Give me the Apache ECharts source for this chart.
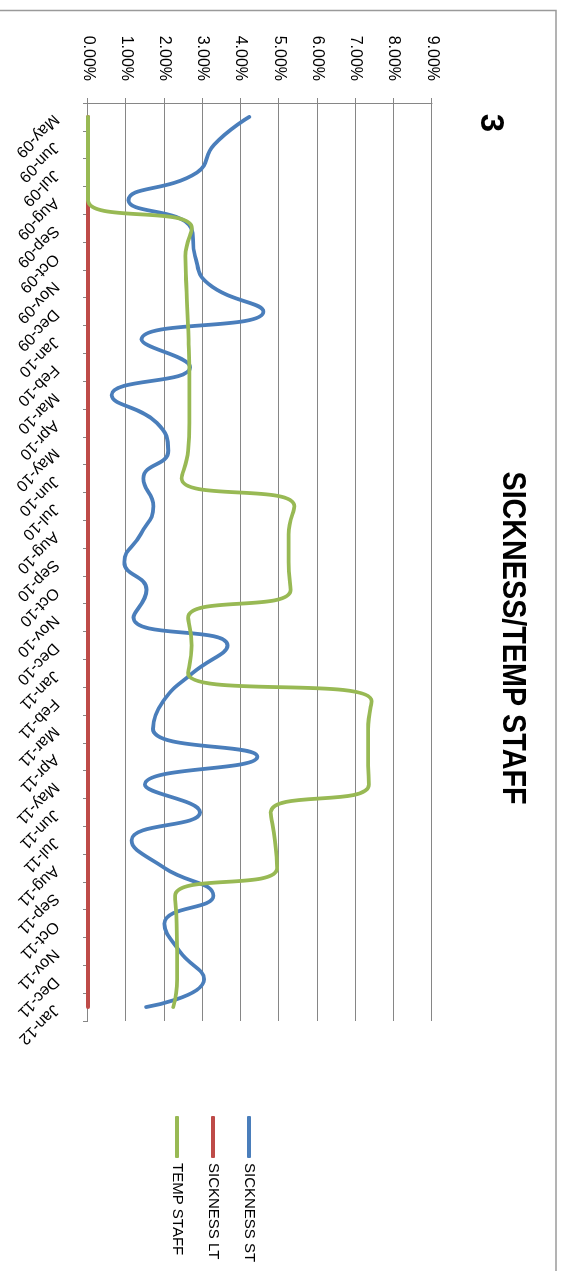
<!DOCTYPE html>
<html>
<head>
<meta charset="utf-8">
<script src="https://cdn.jsdelivr.net/npm/echarts@6/dist/echarts.min.js"></script>
<style>
  html, body { margin: 0; padding: 0; background: #fff; overflow: hidden; }
  #page { position: absolute; left: 0; top: 0; width: 563px; height: 1271px; overflow: hidden; }
  /* the chart is laid out landscape and turned a quarter turn clockwise onto the page */
  #chart { position: absolute; left: 0; top: 0; width: 1271px; height: 563px;
           transform-origin: 0 0; transform: translate(563px, 0) rotate(90deg); }
</style>
</head>
<body>
<div id="page"><div id="chart"></div></div>
<script>
// Monthly categories
const months = [
  'May-09', 'Jun-09', 'Jul-09', 'Aug-09', 'Sep-09', 'Oct-09', 'Nov-09', 'Dec-09',
  'Jan-10', 'Feb-10', 'Mar-10', 'Apr-10', 'May-10', 'Jun-10', 'Jul-10', 'Aug-10',
  'Sep-10', 'Oct-10', 'Nov-10', 'Dec-10', 'Jan-11', 'Feb-11', 'Mar-11', 'Apr-11',
  'May-11', 'Jun-11', 'Jul-11', 'Aug-11', 'Sep-11', 'Oct-11', 'Nov-11', 'Dec-11',
  'Jan-12'
];

// Percentages per month
const sicknessST = [
  4.22, 3.30, 2.85, 1.06, 2.70, 2.80, 3.15, 4.59,
  1.40, 2.67, 0.62, 1.80, 2.10, 1.45, 1.71, 1.38,
  0.95, 1.53, 1.19, 3.65, 2.73, 1.97, 1.70, 4.43,
  1.49, 2.93, 1.14, 2.00, 3.28, 2.00, 2.40, 3.04,
  1.52
];
const sicknessLT = [
  0, 0, 0, 0, 0, 0, 0, 0,
  0, 0, 0, 0, 0, 0, 0, 0,
  0, 0, 0, 0, 0, 0, 0, 0,
  0, 0, 0, 0, 0, 0, 0, 0,
  0
];
const tempStaff = [
  0, 0, 0, 0, 2.72, 2.55, 2.57, 2.60,
  2.63, 2.65, 2.65, 2.65, 2.62, 2.45, 5.40, 5.25,
  5.25, 5.30, 2.62, 2.71, 2.62, 7.42, 7.33, 7.33,
  7.35, 4.78, 4.89, 4.95, 2.28, 2.32, 2.33, 2.33,
  2.23
];

const seriesNames = ['SICKNESS ST', 'SICKNESS LT', 'TEMP STAFF'];
const seriesColors = ['#4A7EBB', '#BE4B48', '#98B954'];

const font = 'Liberation Sans, Arial, sans-serif';
const gridGray = '#868686';

function lineSeries(idx, data) {
  return {
    name: seriesNames[idx],
    type: 'line',
    data: data,
    smooth: 0.5,
    symbol: 'none',
    color: seriesColors[idx],
    lineStyle: { width: 3.8, color: seriesColors[idx], cap: 'round', join: 'round' },
    emphasis: { disabled: true },
    z: 3 + idx
  };
}

const chart = echarts.init(document.getElementById('chart'), null, { renderer: 'canvas' });
chart.setOption({
  animation: false,
  backgroundColor: '#ffffff',
  title: [
    {
      text: '3',
      left: 123, top: 56, textAlign: 'center', padding: 0,
      textStyle: { fontFamily: font, fontWeight: 'bold', fontSize: 33, color: '#000' }
    }
  ],
  graphic: [
    {
      type: 'rect', silent: true,
      shape: { x: 10.5, y: 7, width: 1400, height: 700 },
      style: { fill: 'none', stroke: '#9a9a9a', lineWidth: 1.5 }
    },
    {
      // condensed bold heading
      type: 'text', silent: true,
      x: 638, y: 51, scaleX: 0.845,
      style: {
        text: 'SICKNESS/TEMP STAFF',
        font: 'bold 34px Liberation Sans, Arial, sans-serif',
        fill: '#000', textAlign: 'center', textVerticalAlign: 'middle'
      }
    }
  ],
  legend: {
    orient: 'vertical',
    left: 1111, top: 300,
    itemWidth: 42, itemHeight: 4, itemGap: 18,
    icon: 'roundRect',
    selectedMode: false,
    textStyle: { fontFamily: font, fontSize: 15, color: '#000', lineHeight: 18 },
    data: seriesNames
  },
  grid: { left: 103, right: 250, top: 131, bottom: 88, containLabel: false },
  xAxis: {
    type: 'category',
    data: months,
    boundaryGap: true,
    axisLine: { show: true, lineStyle: { color: gridGray, width: 1 } },
    axisTick: { show: true, interval: 0, length: 5, lineStyle: { color: gridGray } },
    axisLabel: { interval: 0, rotate: -45, margin: 32, fontFamily: font, fontSize: 16, color: '#000' },
    splitLine: { show: false }
  },
  yAxis: {
    type: 'value',
    min: 0, max: 9, interval: 1,
    axisLine: { show: true, lineStyle: { color: gridGray, width: 1 } },
    axisTick: { show: true, length: 5, lineStyle: { color: gridGray } },
    axisLabel: {
      margin: 22, fontFamily: font, fontSize: 16, color: '#000',
      formatter: v => v.toFixed(2) + '%'
    },
    splitLine: { show: true, lineStyle: { color: gridGray, width: 1 } }
  },
  series: [
    lineSeries(0, sicknessST),
    lineSeries(1, sicknessLT),
    lineSeries(2, tempStaff)
  ]
});
</script>
</body>
</html>
